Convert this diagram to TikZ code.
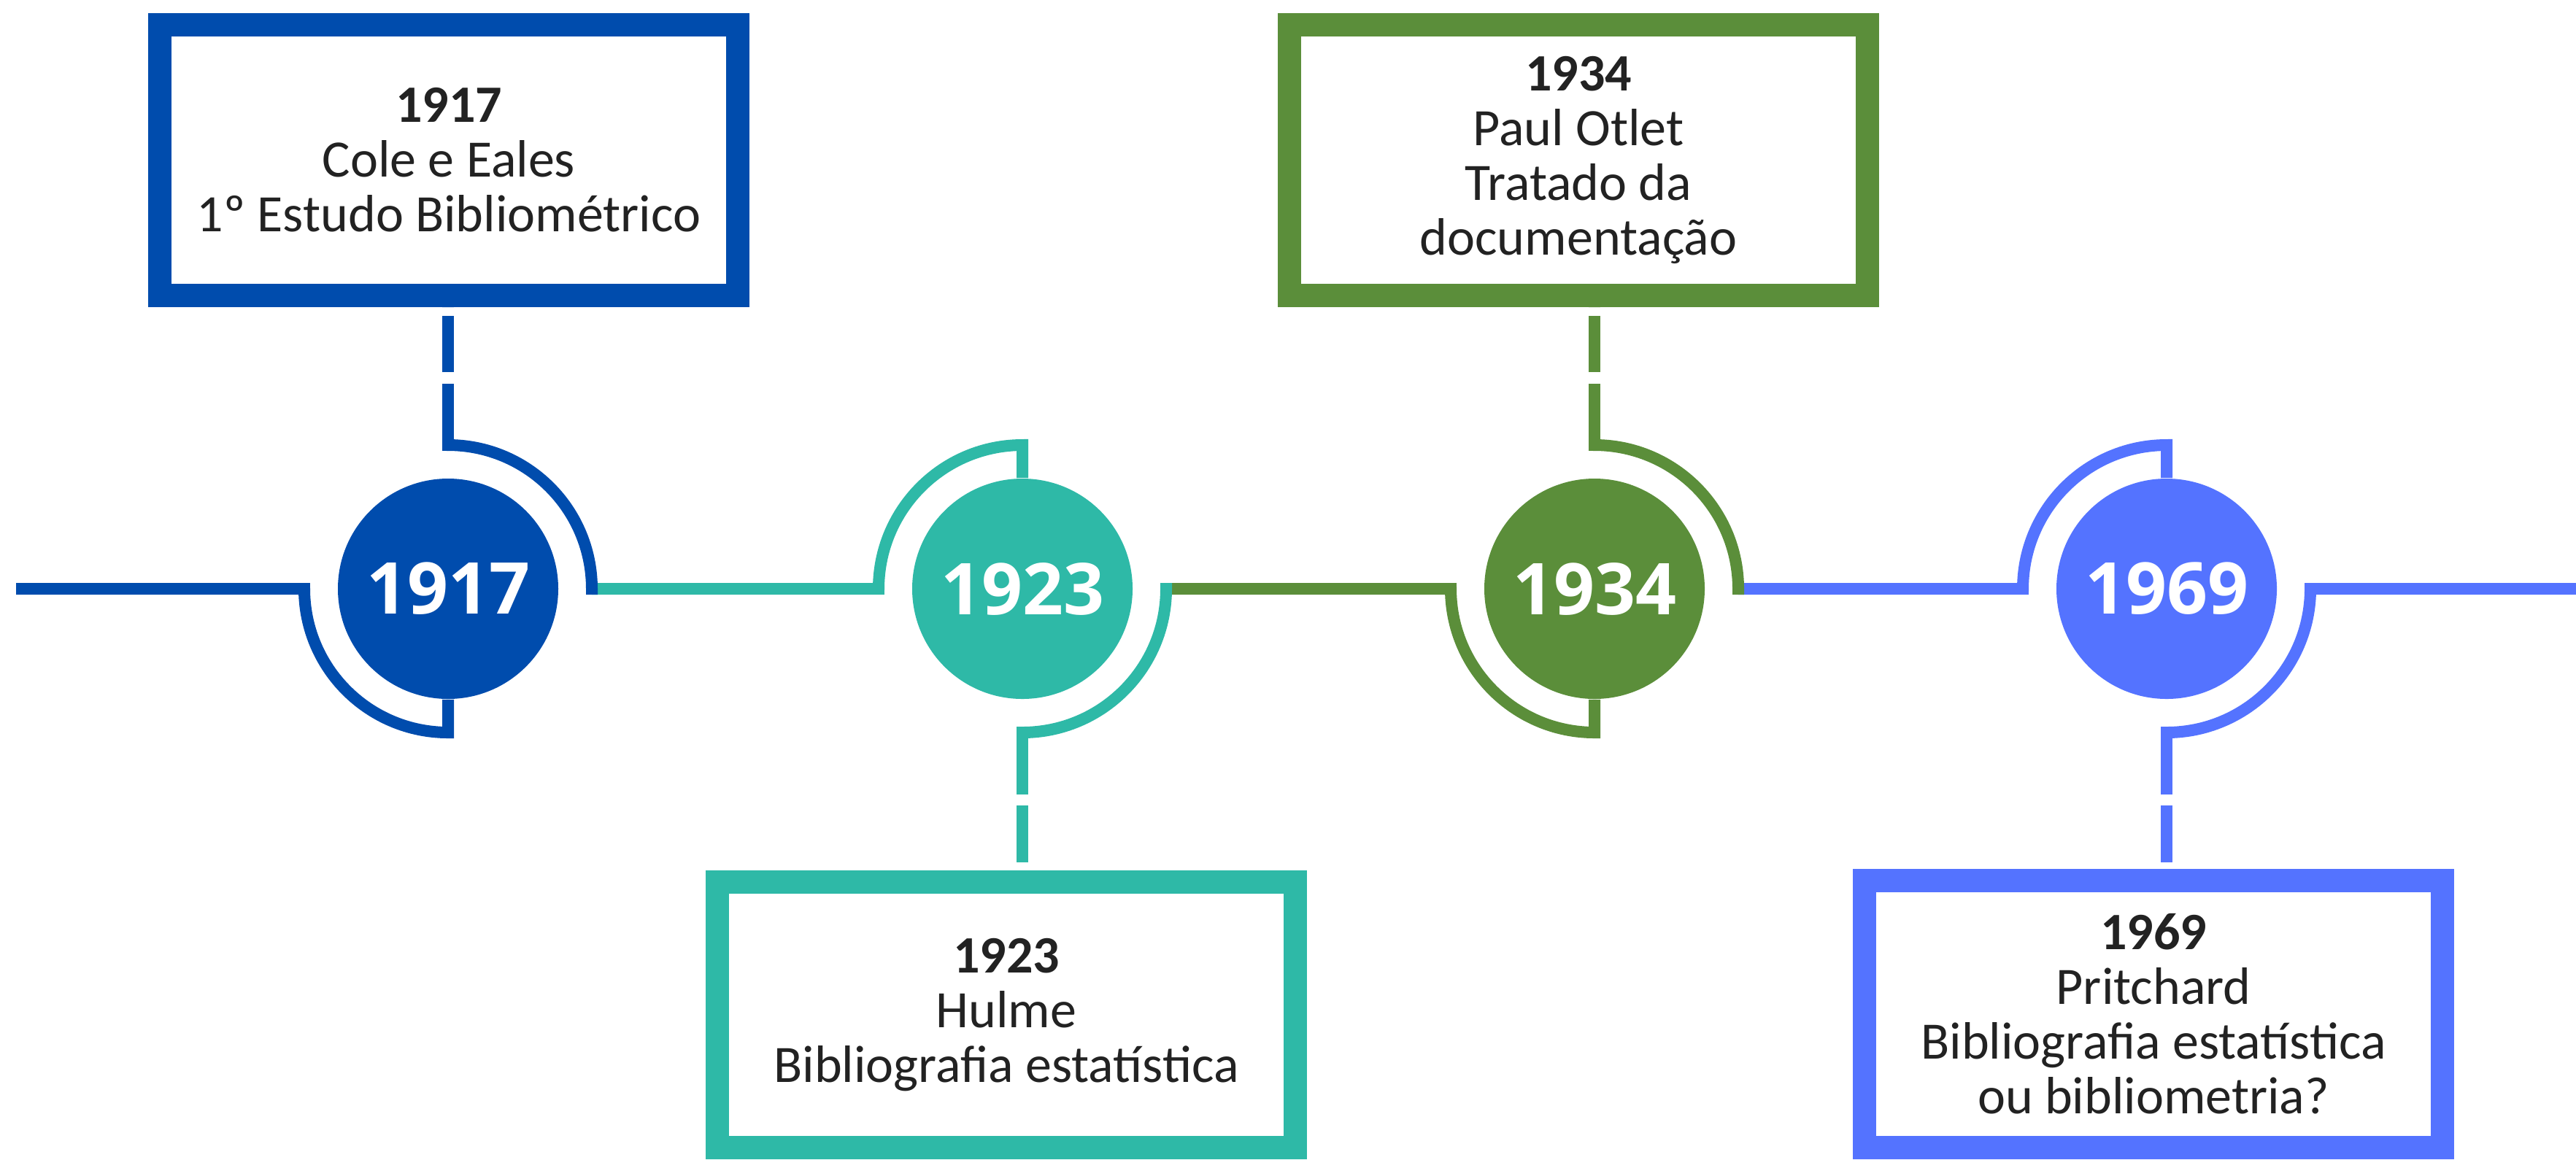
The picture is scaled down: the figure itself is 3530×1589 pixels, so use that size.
\documentclass[tikz,border=0pt]{standalone}
\usepackage{fontspec}
\setmainfont{Carlito}
\newfontfamily\yearfont{Open Sans}
\usetikzlibrary{calc}
\definecolor{cA}{HTML}{004CAD}
\definecolor{cB}{HTML}{2EB9A7}
\definecolor{cC}{HTML}{5B8E3A}
\definecolor{cD}{HTML}{5473FF}
\definecolor{txt}{HTML}{222222}
\tikzset{
  yearnode/.style={circle, minimum size=75.5pt, inner sep=0pt, text=white,
    font=\yearfont\bfseries\fontsize{24.5pt}{26pt}\selectfont},
  infobox/.style={rectangle, fill=white, line width=8pt, minimum width=198pt,
    inner sep=0pt, align=center, text=txt,
    font=\fontsize{18pt}{18.75pt}\selectfont},
  tl/.style={line width=4pt},
  dashconn/.style={line width=4pt,
    dash pattern=on 21.125pt off 3.875pt on 19.375pt off 2.875pt},
}
\begin{document}
\begin{tikzpicture}[x=0.25pt,y=0.25pt]
\fill[white] (0,-1589) rectangle (3530,0);
\useasboundingbox (0,-1589) rectangle (3530,0);

% year circles
\node[yearnode, fill=cA] (c1) at (614,-807) {1917};
\node[yearnode, fill=cB] (c2) at (1401,-807) {1923};
\node[yearnode, fill=cC] (c3) at (2185,-807) {1934};
\node[yearnode, fill=cD] (c4) at (2969,-807) {1969};

% info boxes
\node[infobox, draw=cA, minimum height=92.75pt] (b1) at (615,-219.5)
  {{\bfseries 1917}\\Cole e Eales\\1º Estudo Bibliométrico};
\node[infobox, draw=cB, minimum height=91pt] (b2) at (1379,-1391)
  {{\bfseries 1923}\\Hulme\\Bibliografia estatística};
\node[infobox, draw=cC, minimum height=92.75pt] (b3) at (2163,-219.5)
  {{\bfseries 1934}\\Paul Otlet\\Tratado da\\documentação};
\node[infobox, draw=cD, minimum height=91.5pt] (b4) at (2951,-1390)
  {{\bfseries 1969}\\Pritchard\\Bibliografia estatística\\ou bibliometria?};

% arc end points
\coordinate (l0) at (22,-807);
\coordinate (r0) at (3530,-807);
\foreach \i in {1,2,3,4}{
  \coordinate (t\i) at ($(c\i.center)+(0,197)$);
  \coordinate (d\i) at ($(c\i.center)+(0,-197)$);
  \coordinate (w\i) at ($(c\i.center)+(-197,0)$);
  \coordinate (e\i) at ($(c\i.center)+(197,0)$);
}

% timeline segments with their arcs
\draw[tl,cA] (l0) -- (w1) arc[start angle=180,end angle=270,radius=49.25pt] -- (c1.south);
\draw[tl,cB] (e1) -- (w2) arc[start angle=180,end angle=90,radius=49.25pt] -- (c2.north);
\draw[tl,cC] (e2) -- (w3) arc[start angle=180,end angle=270,radius=49.25pt] -- (c3.south);
\draw[tl,cD] (e3) -- (w4) arc[start angle=180,end angle=90,radius=49.25pt] -- (c4.north);

% second arcs of each year
\draw[tl,cA] ($(t1)+(0,1)$) -- (t1) arc[start angle=90,end angle=0,radius=49.25pt] -- ++(0,-8);
\draw[tl,cB] ($(d2)+(0,-1)$) -- (d2) arc[start angle=270,end angle=360,radius=49.25pt] -- ++(0,8);
\draw[tl,cC] ($(t3)+(0,1)$) -- (t3) arc[start angle=90,end angle=0,radius=49.25pt] -- ++(0,-8);
\draw[tl,cD] ($(d4)+(0,-1)$) -- (d4) arc[start angle=270,end angle=360,radius=49.25pt] -- (r0);

% dashed connectors to the boxes
\draw[dashconn,cA] (t1) -- (b1.south -| t1);
\draw[dashconn,cB] (d2) -- (b2.north -| d2);
\draw[dashconn,cC] (t3) -- (b3.south -| t3);
\draw[dashconn,cD] (d4) -- (b4.north -| d4);
\end{tikzpicture}
\end{document}
